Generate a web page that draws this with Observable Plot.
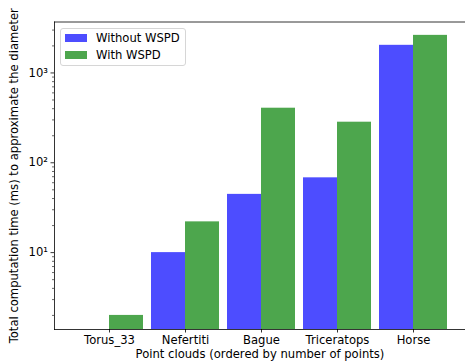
<!DOCTYPE html>
<html>
<head>
<meta charset="utf-8">
<script src="https://cdn.jsdelivr.net/npm/d3@7"></script>
<script src="https://cdn.jsdelivr.net/npm/@observablehq/plot@0.6"></script>
<style>
  html, body { margin: 0; padding: 0; background: #fff; overflow: hidden; }
  #wrap { position: relative; width: 465px; height: 364px; font-family: "DejaVu Sans", sans-serif; }
  .legend { position: absolute; left: 60px; top: 27.5px; width: 124px; height: 36px;
    border: 1px solid #d6d6d6; border-radius: 3px; background: rgba(255,255,255,0.8); font-size: 11.6px; color: #000; }
  .item { position: absolute; left: 3.5px; height: 9px; display: flex; align-items: center; }
  .sw { width: 22.5px; height: 8px; display: inline-block; margin-right: 9px; }
</style>
</head>
<body>
<div id="wrap"></div>
<script>
const categories = ["Torus_33", "Nefertiti", "Bague", "Triceratops", "Horse"];
const withoutWSPD = [null, 10, 44.5, 68, 2030];
const withWSPD = [2, 22, 405, 283, 2620];
const seriesNames = ["Without WSPD", "With WSPD"];
const seriesColors = ["#4d4dff", "#4da64d"];
const majorTicks = [10, 100, 1000];
const majorLabels = ["10¹", "10²", "10³"];
const minorTicks = [2, 3, 4, 5, 6, 7, 8, 9, 20, 30, 40, 50, 60, 70, 80, 90, 200, 300, 400, 500, 600, 700, 800, 900, 2000, 3000];
const yDomain = [1.394, 3690];
const FS = 11.6;

const rows = [];
categories.forEach((c, i) => {
  if (withoutWSPD[i] != null) rows.push({cat: c, series: seriesNames[0], v: withoutWSPD[i]});
  if (withWSPD[i] != null) rows.push({cat: c, series: seriesNames[1], v: withWSPD[i]});
});

const chart = Plot.plot({
  width: 465,
  height: 364,
  marginLeft: 54,
  marginRight: 0,
  marginTop: 21.5,
  marginBottom: 35,
  style: {fontFamily: "DejaVu Sans", fontSize: FS + "px", color: "#000", background: "#fff"},
  x: {type: "band", domain: categories, range: [64.8, 455.8], paddingInner: 0.111, paddingOuter: 0.111, align: 0.5},
  y: {type: "log", domain: yDomain},
  marks: [
    Plot.barY(rows.filter(d => d.series === seriesNames[0]), {
      x: "cat", y1: yDomain[0], y2: "v", fill: seriesColors[0], insetRight: 34, clip: true
    }),
    Plot.barY(rows.filter(d => d.series === seriesNames[1]), {
      x: "cat", y1: yDomain[0], y2: "v", fill: seriesColors[1], insetLeft: 34, clip: true
    }),
    Plot.axisY(minorTicks, {tickSize: 2, tickFormat: () => "", strokeWidth: 0.6, label: null}),
    Plot.axisY(majorTicks, {tickSize: 3.5, tickPadding: 3, tickFormat: (d) => majorLabels[majorTicks.indexOf(d)], strokeWidth: 0.8, label: null, fontSize: FS}),
    Plot.axisX({tickSize: 3.5, tickPadding: 3, strokeWidth: 0.8, label: null, fontSize: FS}),
    Plot.frame({anchor: "left", stroke: "#000", strokeWidth: 0.8}),
    Plot.frame({anchor: "top", stroke: "#000", strokeWidth: 0.8}),
    Plot.frame({anchor: "bottom", stroke: "#000", strokeWidth: 0.8}),
    Plot.text(["Point clouds (ordered by number of points)"], {frameAnchor: "bottom", dy: 28, fontSize: FS, fill: "#000", textAnchor: "middle"}),
    Plot.text(["Total computation time (ms) to approximate the diameter"], {frameAnchor: "left", dx: -40, rotate: -90, fontSize: FS, fill: "#000", textAnchor: "middle"})
  ]
});

const wrap = document.getElementById("wrap");
wrap.appendChild(chart);

const legend = document.createElement("div");
legend.className = "legend";
seriesNames.forEach((name, i) => {
  const item = document.createElement("div");
  item.className = "item";
  item.style.top = (4.5 + i * 17.5) + "px";
  const sw = document.createElement("span");
  sw.className = "sw";
  sw.style.background = seriesColors[i];
  const t = document.createElement("span");
  t.textContent = name;
  item.appendChild(sw);
  item.appendChild(t);
  legend.appendChild(item);
});
wrap.appendChild(legend);
</script>
</body>
</html>
